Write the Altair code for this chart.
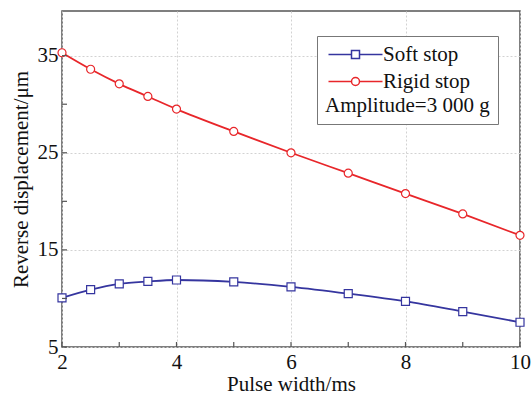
import altair as alt
import pandas as pd

pulse_width = [2, 2.5, 3, 3.5, 4, 5, 6, 7, 8, 9, 10]
soft_stop = [10.05, 10.9, 11.5, 11.75, 11.9, 11.7, 11.2, 10.5, 9.7, 8.65, 7.55]
rigid_stop = [35.3, 33.6, 32.1, 30.8, 29.5, 27.2, 25.0, 22.9, 20.8, 18.7, 16.5]
series_names = ["Soft stop", "Rigid stop"]
series_colors = ["#35359f", "#e8262a"]
x_tick_values = [2, 3, 4, 5, 6, 7, 8, 9, 10]
y_tick_values = [5, 10, 15, 20, 25, 30, 35]
x_label_values = [2, 4, 6, 8, 10]
y_label_values = [5, 15, 25, 35]

rows = []
for name, vals in zip(series_names, [soft_stop, rigid_stop]):
    for xv, yv in zip(pulse_width, vals):
        rows.append({"pulse": xv, "disp": yv, "series": name})
df = pd.DataFrame(rows)

W, H = 458, 336
FONT = "Liberation Serif"

xscale = alt.Scale(domain=[2, 10], nice=False, zero=False)
yscale = alt.Scale(domain=[5, 39.6], nice=False, zero=False)

x_axis = alt.Axis(values=x_label_values, title="Pulse width/ms", format="d",
                  labelFont=FONT, titleFont=FONT, labelFlush=False)
y_axis = alt.Axis(values=y_label_values, title="Reverse displacement/μm", format="d",
                  labelFont=FONT, titleFont=FONT, labelFlush=False)
x_enc = alt.X("pulse:Q", scale=xscale, axis=x_axis)
y_enc = alt.Y("disp:Q", scale=yscale, axis=y_axis)

color_plain = alt.Color("series:N", scale=alt.Scale(domain=series_names, range=series_colors), legend=None)

base = alt.Chart(df)

lines = base.mark_line(strokeWidth=1.8, interpolate="monotone").encode(
    x=x_enc, y=y_enc, color=color_plain, detail="series:N")

points = base.mark_point(filled=False, fill="white", opacity=1, size=64, strokeWidth=1.2).encode(
    x=x_enc, y=y_enc,
    color=color_plain,
    shape=alt.Shape("series:N", scale=alt.Scale(domain=series_names, range=["square", "circle"]), legend=None))

legend_cfg = alt.Legend(
    orient="none", legendX=255, legendY=25,
    title="Amplitude=3 000 g", titleOrient="bottom", titleAnchor="start",
    titleFont=FONT, titleFontSize=21, titleFontWeight="normal", titleColor="#111",
    titlePadding=3, titleLimit=400,
    labelFont=FONT, labelFontSize=21, labelColor="#111", labelLimit=400,
    labelOffset=17, symbolOffset=20, symbolSize=64, symbolStrokeWidth=1.5,
    rowPadding=5, padding=8, strokeColor="#777", fillColor="white")

leg_paths = [
    "M-6.75,0H-1M1,0H6.75M-1,-1H1V1H-1Z",
    "M-6.75,0H-1M1,0H6.75M-1,0A1,1,0,1,0,1,0A1,1,0,1,0,-1,0Z",
]

legend_layer = base.transform_filter("false").mark_point(filled=False, opacity=1, size=64).encode(
    x=x_enc, y=y_enc,
    color=alt.Color("series:N", scale=alt.Scale(domain=series_names, range=series_colors), legend=legend_cfg),
    shape=alt.Shape("series:N", scale=alt.Scale(domain=series_names, range=leg_paths), legend=legend_cfg))

xt = pd.DataFrame({"pulse": x_tick_values})
yt = pd.DataFrame({"disp": y_tick_values})
xticks = alt.Chart(xt).mark_rule(color="#555", strokeWidth=1.2).encode(
    x=x_enc, y=alt.value(H), y2=alt.value(H - 5))
yticks = alt.Chart(yt).mark_rule(color="#555", strokeWidth=1.2).encode(
    y=y_enc, x=alt.value(0), x2=alt.value(5))

chart = alt.layer(lines, points, xticks, yticks, legend_layer).resolve_scale(
    color="independent", shape="independent"
).properties(
    width=W, height=H,
    autosize=alt.AutoSizeParams(type="none"),
    padding={"left": 62, "top": 11, "right": 11, "bottom": 49},
).configure(
    font=FONT
).configure_view(
    stroke="#555", strokeWidth=1.5
).configure_axis(
    labelFont=FONT, labelFontSize=21, labelColor="#111",
    titleFont=FONT, titleFontSize=21, titleFontWeight="normal", titleColor="#111",
    ticks=False, domain=False, labelPadding=4,
    grid=True, gridColor="#d2d2d2", gridDash=[2, 2], gridWidth=1,
).configure_axisY(titlePadding=6).configure_axisX(titlePadding=1)

chart.save("out.html", embed_options={"renderer": "svg", "actions": False})
